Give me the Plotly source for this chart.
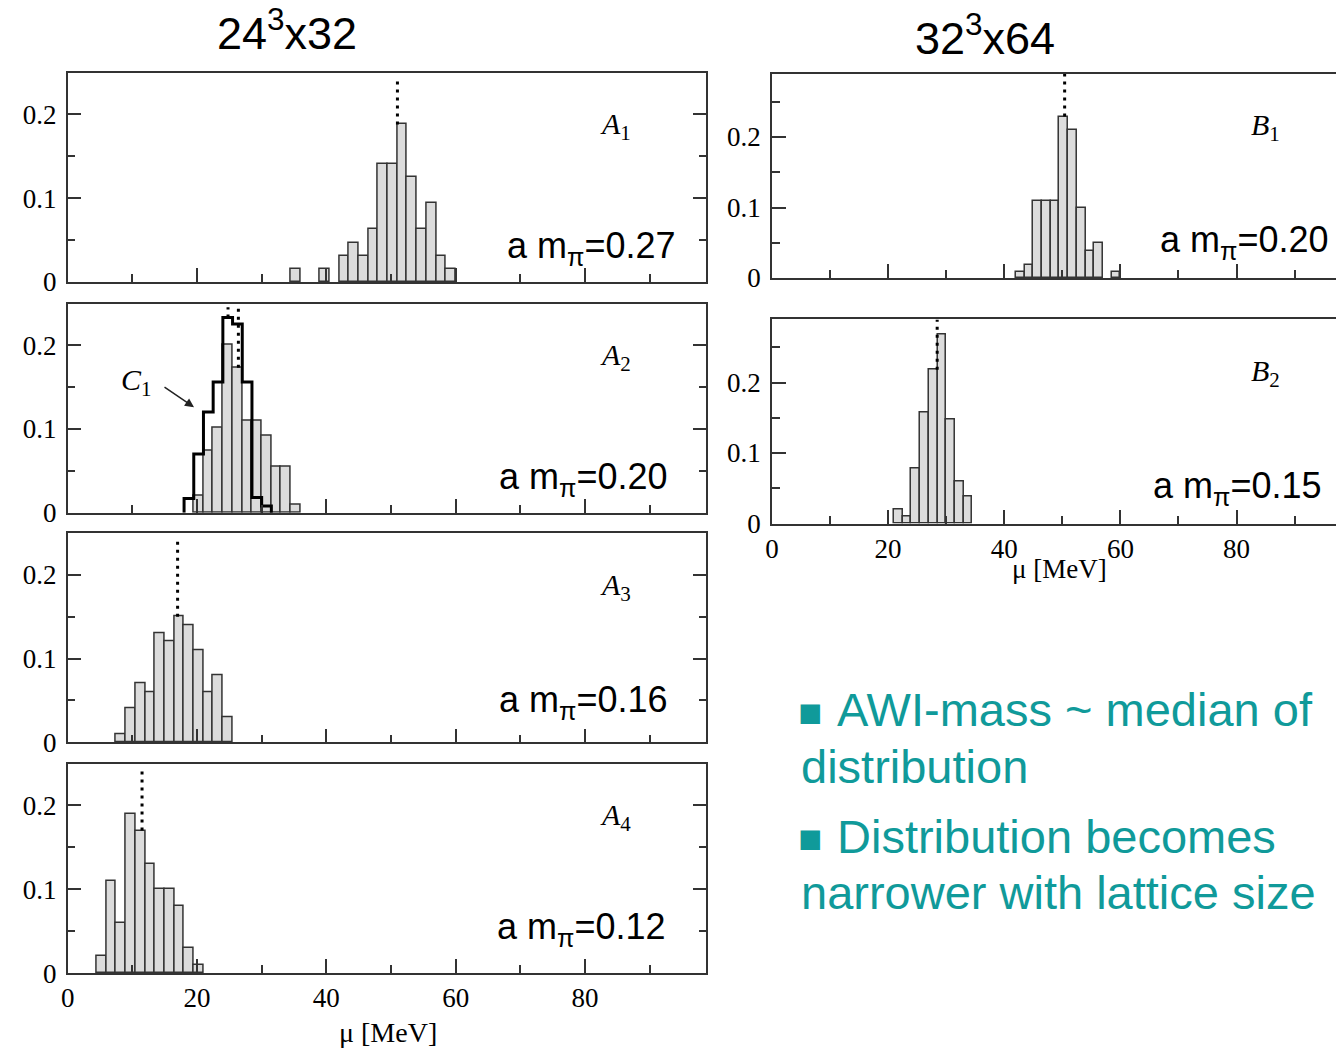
import plotly.graph_objects as go

W, H = 1336, 1064

# ---------------- data (frequencies per 1.5 MeV bin) ----------------
BIN_W = 1.5
A1_left = [34.5, 39, 42, 43.5, 45, 46.5, 48, 49.5, 51, 52.5, 54, 55.5, 57, 58.5]
A1_freq = [0.016, 0.016, 0.031, 0.047, 0.031, 0.063, 0.141, 0.141, 0.188, 0.125, 0.063, 0.094, 0.031, 0.016]
A2_left = [19.5, 21, 22.5, 24, 25.5, 27, 28.5, 30, 31.5, 33, 34.5]
A2_freq = [0.02, 0.074, 0.102, 0.20, 0.173, 0.11, 0.11, 0.092, 0.055, 0.055, 0.01]
C1_left = [18, 19.5, 21, 22.5, 24, 25.5, 27, 28.5, 30]
C1_freq = [0.017, 0.07, 0.12, 0.156, 0.233, 0.225, 0.156, 0.018, 0.008]
A3_left = [7.5, 9, 10.5, 12, 13.5, 15, 16.5, 18, 19.5, 21, 22.5, 24]
A3_freq = [0.01, 0.04, 0.07, 0.06, 0.13, 0.12, 0.15, 0.14, 0.11, 0.06, 0.08, 0.03]
A4_left = [4.5, 6, 7.5, 9, 10.5, 12, 13.5, 15, 16.5, 18, 19.5]
A4_freq = [0.02, 0.11, 0.06, 0.19, 0.17, 0.13, 0.10, 0.10, 0.08, 0.03, 0.01]
B1_left = [42, 43.5, 45, 46.5, 48, 49.5, 51, 52.5, 54, 55.5, 58.5]
B1_freq = [0.008, 0.019, 0.11, 0.11, 0.11, 0.229, 0.21, 0.10, 0.039, 0.05, 0.008]
B2_left = [21, 22.5, 24, 25.5, 27, 28.5, 30, 31.5, 33]
B2_freq = [0.02, 0.01, 0.078, 0.158, 0.218, 0.268, 0.148, 0.059, 0.038]

medians = {"A1": 51.0, "A2": 26.4, "C1": 24.8, "A3": 17.0, "A4": 11.5, "B1": 50.4, "B2": 28.45}
mpi_labels = {"A1": "0.27", "A2": "0.20", "A3": "0.16", "A4": "0.12", "B1": "0.20", "B2": "0.15"}
titles = ["24<sup>3</sup>x32", "32<sup>3</sup>x64"]
x_ticks = [0, 20, 40, 60, 80]
y_ticks = [0, 0.1, 0.2]

# ---------------- layout geometry (pixels) ----------------
def pxx(x):
    return x / W

def pxy(y):
    return 1 - y / H

panels = [
    # name, x0, x1, ytop, ybot, xmax, ymax, show x labels
    ("A1", 61, 703, 74, 286, 98.77, 0.2494, False, A1_left, A1_freq),
    ("A2", 61, 703, 308, 520, 98.77, 0.2494, False, A2_left, A2_freq),
    ("A3", 61, 703, 541, 753, 98.77, 0.2494, False, A3_left, A3_freq),
    ("A4", 61, 703, 775, 987, 98.77, 0.2494, True, A4_left, A4_freq),
    ("B1", 769, 1336, 75, 282, 97.13, 0.2895, False, B1_left, B1_freq),
    ("B2", 769, 1336, 324, 531, 97.13, 0.2895, True, B2_left, B2_freq),
]

AX = "#333333"
SERIF = "Liberation Serif"
SANS = "Liberation Sans"
TEAL = "#109a9a"

fig = go.Figure()
layout = dict(width=W, height=H, margin=dict(l=0, r=0, t=0, b=0),
              paper_bgcolor="white", plot_bgcolor="white", showlegend=False,
              bargap=0)

def height_at(lefts, freqs, x):
    for l, f in zip(lefts, freqs):
        if l <= x < l + BIN_W:
            return f
    return 0

def note(text, x, y, size, family, color="black", xanchor="center", yanchor="middle"):
    return dict(text=text, x=pxx(x), y=pxy(y), xref="paper", yref="paper", showarrow=False,
                xanchor=xanchor, yanchor=yanchor, font=dict(family=family, size=size, color=color))

annotations = []
for i, (name, x0, x1, yt, yb, xmax, ymax, showx, lefts, freqs) in enumerate(panels, start=1):
    xa = "x" if i == 1 else f"x{i}"
    ya = "y" if i == 1 else f"y{i}"
    right_cut = name.startswith("B")
    layout[f"xaxis{i}"] = dict(
        domain=[pxx(x0), pxx(x1)], anchor=ya, range=[0, xmax],
        tickvals=x_ticks, ticks="inside", ticklen=14, tickwidth=1.5, tickcolor=AX,
        minor=dict(dtick=10, tick0=0, ticks="inside", ticklen=8, tickwidth=1.5, tickcolor=AX),
        showticklabels=showx, showgrid=False, zeroline=False,
        showline=True, linecolor=AX, linewidth=1.5, mirror=True,
        tickfont=dict(family=SERIF, size=27, color="black"))
    layout[f"yaxis{i}"] = dict(
        domain=[pxy(yb), pxy(yt)], anchor=xa, range=[0, ymax],
        tickvals=y_ticks, ticks="inside", ticklen=14, tickwidth=1.5, tickcolor=AX,
        minor=dict(dtick=0.05, tick0=0, ticks="inside", ticklen=8, tickwidth=1.5, tickcolor=AX),
        showgrid=False, zeroline=False,
        showline=True, linecolor=AX, linewidth=1.5, mirror=(False if right_cut else "ticks"),
        ticklabelstandoff=4,
        tickfont=dict(family=SERIF, size=27, color="black"))

    fig.add_trace(go.Bar(
        x=[l + BIN_W / 2 for l in lefts], y=freqs, width=BIN_W,
        marker=dict(color="#dcdcdc", line=dict(color="#333333", width=1.5)),
        xaxis=xa, yaxis=ya, hoverinfo="skip"))

    if name == "A2":
        cx = [C1_left[0]] + C1_left + [C1_left[-1] + BIN_W]
        cy = [0] + C1_freq + [0]
        fig.add_trace(go.Scatter(x=cx, y=cy, mode="lines", line_shape="hv",
                                 line=dict(color="black", width=3),
                                 xaxis=xa, yaxis=ya, hoverinfo="skip"))
        mc = medians["C1"]
        fig.add_trace(go.Scatter(x=[mc, mc], y=[height_at(C1_left, C1_freq, mc), 0.245],
                                 mode="lines", line=dict(color="black", width=3, dash="3px,5px"),
                                 xaxis=xa, yaxis=ya, hoverinfo="skip"))

    m = medians[name]
    top = 0.244 if name.startswith("A") else ymax
    fig.add_trace(go.Scatter(x=[m, m], y=[height_at(lefts, freqs, m), top],
                             mode="lines", line=dict(color="black", width=3, dash="3px,5px"),
                             xaxis=xa, yaxis=ya, hoverinfo="skip"))

    # panel label
    lx = 612 if name.startswith("A") else 1265
    annotations.append(note(f"<i>{name[0]}</i><sub>{name[1]}</sub>", lx, yt + 54, 30, SERIF))
    # a m_pi label
    rx = {"A1": 675, "A2": 666, "A3": 666, "A4": 664, "B1": 1331, "B2": 1324}[name]
    ry = {"A1": 252, "A2": 486, "A3": 712, "A4": 942, "B1": 245, "B2": 495}[name]
    annotations.append(note("a m<sub>π</sub>=" + mpi_labels[name], rx, ry, 36, SANS, xanchor="right"))

# C1 label and arrow
annotations.append(note("<i>C</i><sub>1</sub>", 130, 387, 30, SERIF))
annotations.append(dict(text="", x=(188 - 61) / 6.5, y=(520 - 413) / 850, xref="x2", yref="y2",
                        ax=-31, ay=-21, showarrow=True, arrowhead=2, arrowsize=1.2,
                        arrowwidth=1.5, arrowcolor="#222"))

# titles
annotations.append(note(titles[0], 281, 30, 45, SANS))
annotations.append(note(titles[1], 983, 35, 45, SANS))

# axis titles
annotations.append(note("μ [MeV]", 383, 1047, 28, SERIF))
annotations.append(note("μ [MeV]", 1058, 577, 27, SERIF))

# bullet text
bullet_lines = [("AWI-mass ~ median of", 832, 720, True),
                ("distribution", 796, 777, False),
                ("Distribution becomes", 832, 848, True),
                ("narrower with lattice size", 796, 905, False)]
for txt, x, y, bullet in bullet_lines:
    annotations.append(note(txt, x, y, 47, SANS, color=TEAL, xanchor="left"))
    if bullet:
        annotations.append(note("■", 807, y + 2, 40, SANS, color=TEAL))

layout["annotations"] = annotations
fig.update_layout(**layout)
fig.write_html("out.html")
